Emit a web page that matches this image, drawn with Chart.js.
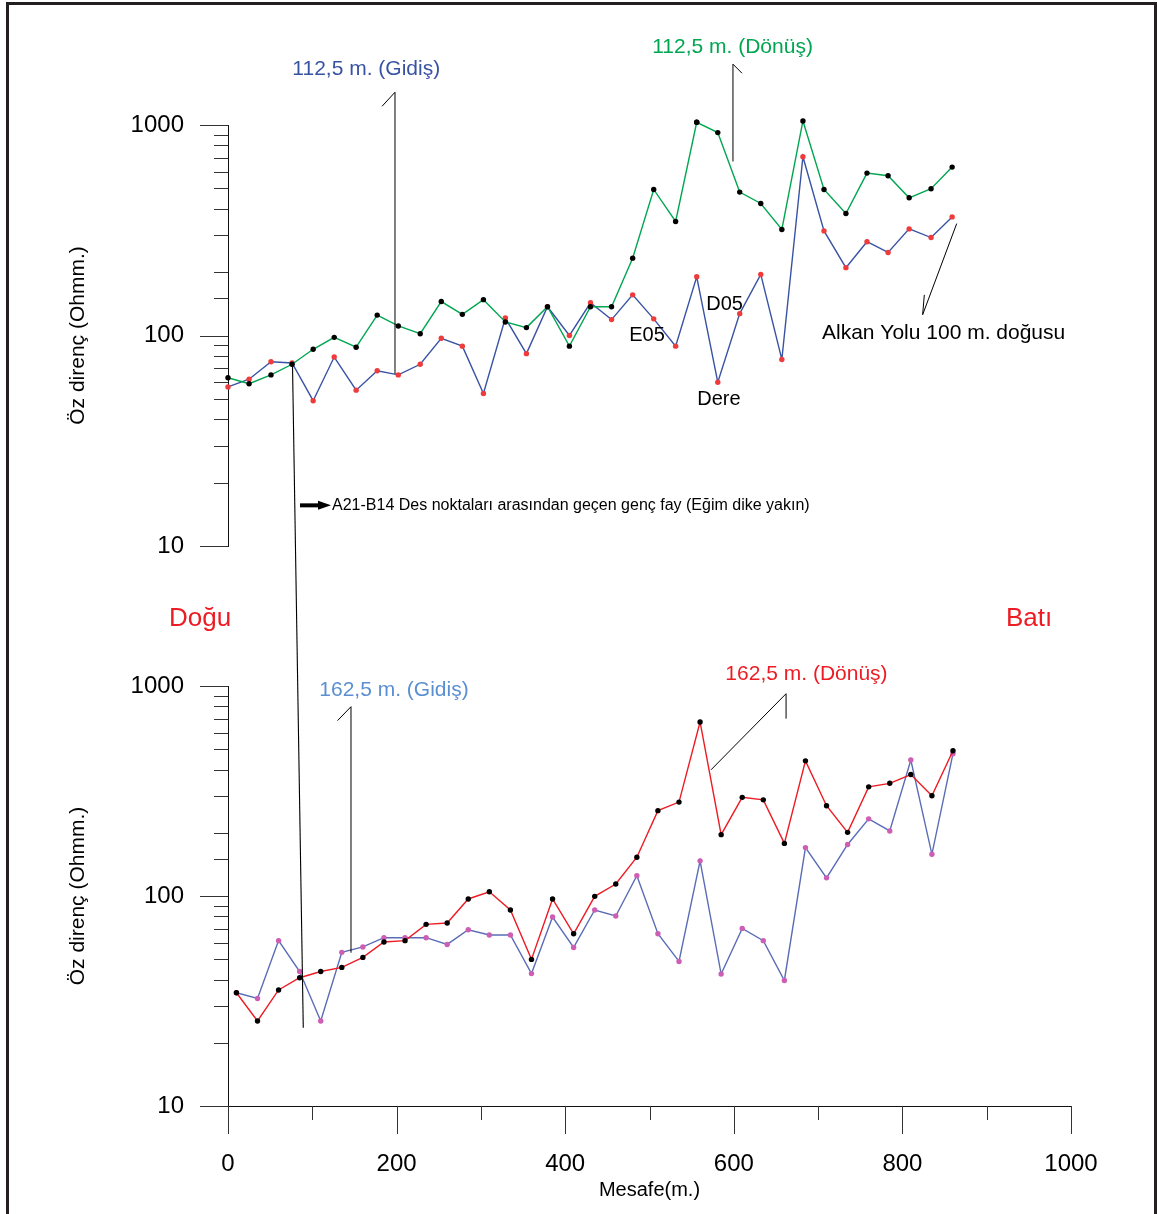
<!DOCTYPE html>
<html lang="tr">
<head>
<meta charset="utf-8">
<title>Öz direnç profilleri</title>
<script src="https://cdn.jsdelivr.net/npm/chart.js@4.4.1/dist/chart.umd.min.js"></script>
<style>
  html, body { margin: 0; padding: 0; background: #fff; overflow: hidden; }
  #page { position: relative; width: 1157px; height: 1214px; overflow: hidden; }
  #page canvas { position: absolute; left: 0; top: 0; }
  #frame { position: absolute; left: 6px; top: 2px; width: 1151px; height: 1300px;
           border: 3px solid #231f20; box-sizing: border-box; }
</style>
</head>
<body>
<div id="page">
  <div id="frame"></div>
  <canvas id="topChart" width="1157" height="1214"></canvas>
  <canvas id="bottomChart" width="1157" height="1214"></canvas>
</div>
<script>
// distances (m) and apparent resistivity (Ohmm.) read from the profiles
var topDistance = [0, 25, 51, 76, 101, 126, 152, 177, 202, 228, 253, 278, 303, 329, 354, 379, 405, 430,
    455, 480, 505, 531, 556, 581, 607, 632, 657, 682, 707, 733, 758, 783, 808, 834, 859];
var donus112 = [63, 59, 65, 73, 86, 98, 88, 125, 111, 102, 145, 126, 148, 116, 109, 137, 89, 137,
    137, 233, 494, 348, 1030, 920, 480, 424, 319, 1045, 494, 380, 591, 574, 451, 498, 631];
var gidis112 = [57, 62, 75, 74, 49, 79, 55, 68, 65, 73, 97, 89, 53, 121, 82, 137, 100, 143,
    119, 156, 120, 89, 190, 60, 127, 195, 77, 707, 314, 210, 279, 248, 321, 292, 366];

var bottomDistance = [10, 35, 60, 85, 110, 135, 160, 185, 210, 235, 260, 285, 310, 335, 360, 385, 410, 435,
    460, 485, 510, 535, 560, 585, 610, 635, 660, 685, 710, 735, 760, 785, 810, 835, 860];
var donus162 = [34.6, 25.4, 35.7, 40.8, 43.7, 45.7, 51, 60.4, 61.3, 73.3, 74.4, 96.8, 104.8, 85.8, 49.9, 96.8, 66.1, 99.6,
    114, 153, 255, 280, 674, 196, 295, 287, 178, 440, 269, 201, 331, 344, 379, 300, 492];
var gidis162 = [34.6, 32.5, 61.3, 43.7, 25.4, 53.9, 57.2, 63.3, 63.3, 63.3, 58.8, 69.1, 65.2, 65.2, 42.7, 79.4, 56.9, 85.8,
    80.3, 125, 66.1, 48.8, 147, 42.5, 70.1, 61.3, 39.6, 170, 122, 176, 233, 204, 444, 158, 476];

var yTickLabels = [10, 100, 1000];
var xTickLabels = [0, 200, 400, 600, 800, 1000];

var FONT = '"Liberation Sans", Arial, Helvetica, sans-serif';
var RED = '#ed1c24';

// annotations, placed in data units of each panel
var topNotes = [
    {text: '112,5 m. (Gidiş)', x: 164, y: 1841, color: '#3953a4', size: 21},
    {line: [[182.7, 1227], [198.1, 1431], [198.1, 65.7]]},
    {text: '112,5 m. (Dönüş)', x: 598.5, y: 2344, color: '#00a651', size: 21},
    {line: [[609.7, 1762], [599, 1945], [599, 671]]},
    {text: 'E05', x: 497, y: 100, color: '#000', size: 20},
    {text: 'D05', x: 589, y: 140, color: '#000', size: 20},
    {text: 'Dere', x: 582.4, y: 49.9, color: '#000', size: 20},
    {text: 'Alkan Yolu 100 m. doğusu', x: 704.6, y: 103, color: '#000', size: 21, align: 'left'},
    {line: [[826, 156], [824, 125.5], [864.4, 340]]},
    {arrow: [[85.4, 15.6], [122.2, 15.6]]},
    {text: 'A21-B14 Des noktaları arasından geçen genç fay (Eğim dike yakın)', x: 123.4, y: 15.6,
        color: '#000', size: 16, align: 'left'},
    {text: 'Doğu', x: -33.2, y: 4.53, color: RED, size: 26},
    {text: 'Batı', x: 950.2, y: 4.53, color: RED, size: 26}
];
var bottomNotes = [
    {text: '162,5 m. (Gidiş)', x: 196.9, y: 950, color: '#5b8fd0', size: 21},
    {line: [[129.9, 684], [145.9, 797], [145.9, 53.7]]},
    {text: '162,5 m. (Dönüş)', x: 686.2, y: 1132, color: RED, size: 21},
    {line: [[573, 399], [662, 919], [662, 699]]}
];
// fault line: starts on the upper profile, ends on the lower one
var faultTop = [76.5, 73.3];
var faultBottom = [89.3, 23.6];

var topChart;

function lineSet(label, dist, values, lineColor, dotColor) {
    return {
        label: label,
        data: dist.map(function(d, i) { return {x: d, y: values[i]}; }),
        borderColor: lineColor,
        borderWidth: 1.4,
        tension: 0,
        fill: false,
        clip: false,
        pointRadius: 2.7,
        pointBorderWidth: 0,
        pointBackgroundColor: dotColor
    };
}

function isDecade(v) {
    var l = Math.log10(v);
    return Math.abs(l - Math.round(l)) < 1e-6;
}

function yAxis() {
    return {
        type: 'logarithmic',
        min: 10,
        max: 1000,
        position: 'left',
        afterFit: function(s) { s.width = 228; },
        grid: {display: false, drawTicks: false},
        border: {display: true, color: '#111', width: 1},
        ticks: {
            autoSkip: false,
            padding: 44,
            color: '#000',
            font: {family: FONT, size: 24},
            callback: function(v) { return yTickLabels.indexOf(v) >= 0 ? String(v) : ''; }
        },
        title: {
            display: true,
            text: 'Öz direnç (Ohmm.)',
            color: '#000',
            font: {family: FONT, size: 21},
            padding: {top: 66, bottom: 0}
        }
    };
}

// points just above 1000 fall outside the plot area; Chart.js skips them, so draw them here
var outsidePoints = {
    id: 'outsidePoints',
    afterDatasetsDraw: function(chart) {
        var area = chart.chartArea;
        for (var i = chart.data.datasets.length - 1; i >= 0; i--) {
            chart.getDatasetMeta(i).data.forEach(function(el) {
                if (el.y < area.top - 1 || el.y > area.bottom + 1) el.draw(chart.ctx);
            });
        }
    }
};

// tick marks: long at decades / labelled distances, short elsewhere
var tickMarks = {
    id: 'tickMarks',
    afterDraw: function(chart) {
        var ctx = chart.ctx;
        ctx.save();
        ctx.strokeStyle = '#333';
        ctx.lineWidth = 1;
        var y = chart.scales.y;
        y.ticks.forEach(function(t) {
            var py = Math.round(y.getPixelForValue(t.value)) + 0.5;
            var len = isDecade(t.value) ? 28 : 14;
            ctx.beginPath();
            ctx.moveTo(y.right - len, py);
            ctx.lineTo(y.right, py);
            ctx.stroke();
        });
        var x = chart.scales.x;
        if (x.options.display) {
            x.ticks.forEach(function(t) {
                var px = Math.round(x.getPixelForValue(t.value)) + 0.5;
                var len = xTickLabels.indexOf(t.value) >= 0 ? 28 : 14;
                ctx.beginPath();
                ctx.moveTo(px, x.top);
                ctx.lineTo(px, x.top + len);
                ctx.stroke();
            });
        }
        ctx.restore();
    }
};

function notesPlugin(list) {
    return {
        id: 'notes',
        afterDraw: function(chart) {
            var ctx = chart.ctx;
            var xs = chart.scales.x, ys = chart.scales.y;
            function px(p) { return [xs.getPixelForValue(p[0]), ys.getPixelForValue(p[1])]; }
            ctx.save();
            list.forEach(function(n) {
                if (n.line) {
                    ctx.strokeStyle = '#000';
                    ctx.lineWidth = 1;
                    ctx.beginPath();
                    n.line.forEach(function(p, i) {
                        var q = px(p);
                        if (i === 0) ctx.moveTo(q[0], q[1]); else ctx.lineTo(q[0], q[1]);
                    });
                    ctx.stroke();
                } else if (n.arrow) {
                    var a = px(n.arrow[0]), b = px(n.arrow[1]);
                    ctx.fillStyle = '#000';
                    ctx.fillRect(a[0], a[1] - 2, b[0] - a[0] - 10, 4);
                    ctx.beginPath();
                    ctx.moveTo(b[0] - 13, b[1] - 4.5);
                    ctx.lineTo(b[0], b[1]);
                    ctx.lineTo(b[0] - 13, b[1] + 4.5);
                    ctx.closePath();
                    ctx.fill();
                } else {
                    var q = px([n.x, n.y]);
                    ctx.font = n.size + 'px ' + FONT;
                    ctx.fillStyle = n.color;
                    ctx.textAlign = n.align || 'center';
                    ctx.textBaseline = 'middle';
                    ctx.fillText(n.text, q[0], q[1]);
                }
            });
            ctx.restore();
        }
    };
}

var faultPlugin = {
    id: 'fault',
    afterDraw: function(chart) {
        if (!topChart) return;
        var ctx = chart.ctx;
        var x0 = topChart.scales.x.getPixelForValue(faultTop[0]);
        var y0 = topChart.scales.y.getPixelForValue(faultTop[1]);
        var x1 = chart.scales.x.getPixelForValue(faultBottom[0]);
        var y1 = chart.scales.y.getPixelForValue(faultBottom[1]);
        ctx.save();
        ctx.strokeStyle = '#000';
        ctx.lineWidth = 1.1;
        ctx.beginPath();
        ctx.moveTo(x0, y0);
        ctx.lineTo(x1, y1);
        ctx.stroke();
        ctx.restore();
    }
};

topChart = new Chart(document.getElementById('topChart'), {
    type: 'line',
    data: {
        datasets: [
            lineSet('112,5 m. (Dönüş)', topDistance, donus112, '#00a651', '#000'),
            lineSet('112,5 m. (Gidiş)', topDistance, gidis112, '#3953a4', '#ef3b3b')
        ]
    },
    options: {
        responsive: false,
        animation: false,
        devicePixelRatio: 1,
        layout: {padding: {left: 0, right: 86, top: 125, bottom: 668}},
        plugins: {legend: {display: false}, tooltip: {enabled: false}},
        scales: {
            x: {type: 'linear', min: 0, max: 1000, display: false},
            y: yAxis()
        }
    },
    plugins: [outsidePoints, tickMarks, notesPlugin(topNotes)]
});

var bottomChart = new Chart(document.getElementById('bottomChart'), {
    type: 'line',
    data: {
        datasets: [
            lineSet('162,5 m. (Dönüş)', bottomDistance, donus162, RED, '#000'),
            lineSet('162,5 m. (Gidiş)', bottomDistance, gidis162, '#5a6cb6', '#cc5fb4')
        ]
    },
    options: {
        responsive: false,
        animation: false,
        devicePixelRatio: 1,
        layout: {padding: {left: 0, right: 86, top: 686, bottom: 0}},
        plugins: {legend: {display: false}, tooltip: {enabled: false}},
        scales: {
            x: {
                type: 'linear',
                min: 0,
                max: 1000,
                position: 'bottom',
                afterFit: function(s) { s.height = 108; },
                grid: {display: false, drawTicks: false},
                border: {display: true, color: '#111', width: 1},
                ticks: {
                    stepSize: 100,
                    autoSkip: false,
                    maxRotation: 0,
                    padding: 44,
                    color: '#000',
                    font: {family: FONT, size: 24},
                    callback: function(v) { return xTickLabels.indexOf(v) >= 0 ? String(v) : ''; }
                },
                title: {
                    display: true,
                    text: 'Mesafe(m.)',
                    color: '#000',
                    font: {family: FONT, size: 20},
                    padding: {top: 0, bottom: 12}
                }
            },
            y: yAxis()
        }
    },
    plugins: [outsidePoints, tickMarks, notesPlugin(bottomNotes), faultPlugin]
});
</script>
</body>
</html>
